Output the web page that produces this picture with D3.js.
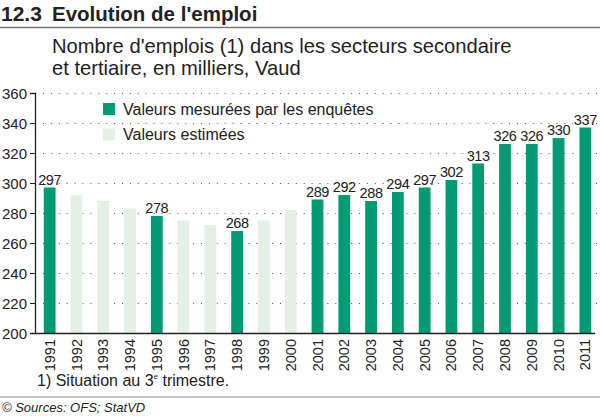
<!DOCTYPE html>
<html><head><meta charset="utf-8">
<script src="https://cdn.jsdelivr.net/npm/d3@7"></script>
<style>body{margin:0;background:#fff}svg{display:block}text{font-family:"Liberation Sans",Arial,sans-serif;fill:#222}</style>
</head><body><svg id="c" width="600" height="416"></svg>
<script>
const years = ["1991","1992","1993","1994","1995","1996","1997","1998","1999","2000","2001","2002","2003","2004","2005","2006","2007","2008","2009","2010","2011"];
const values = [297,292,288,283,278,275,272,268,275,282,289,292,288,294,297,302,313,326,326,330,337];
const measured = [true,false,false,false,true,false,false,true,false,false,true,true,true,true,true,true,true,true,true,true,true];
const yTicks = [200,220,240,260,280,300,320,340,360];
const legendLabels = ["Valeurs mesurées par les enquêtes","Valeurs estimées"];
const colors = {measured:"#009a74", estimated:"#e2f0e5"};

const svg = d3.select("#c");
const x = d3.scaleBand().domain(years).range([36,599]).paddingInner(0.56).paddingOuter(0.29);
const y = d3.scaleLinear().domain([200,360]).range([333,93]);

// title
svg.append("text").attr("x",1).attr("y",21).attr("font-size",21).attr("font-weight","bold").text("12.3");
svg.append("text").attr("x",52).attr("y",21).attr("font-size",20.5).attr("font-weight","bold").text("Evolution de l'emploi");
svg.append("line").attr("x1",0).attr("x2",600).attr("y1",27.5).attr("y2",27.5).attr("stroke","#777").attr("stroke-width",1.5);
svg.append("text").attr("x",52).attr("y",53).attr("font-size",20.2).attr("fill","#333").text("Nombre d'emplois (1) dans les secteurs secondaire");
svg.append("text").attr("x",52).attr("y",74.5).attr("font-size",20.2).attr("fill","#333").text("et tertiaire, en milliers, Vaud");

// grid
svg.append("g").selectAll("line").data(yTicks.slice(1)).join("line")
  .attr("x1",43).attr("x2",599).attr("y1",d=>Math.round(y(d))+0.5).attr("y2",d=>Math.round(y(d))+0.5)
  .attr("stroke","#555").attr("stroke-width",1).attr("stroke-dasharray","1,6.9");

// bars
svg.append("g").selectAll("rect").data(years).join("rect")
  .attr("x",d=>x(d)).attr("width",x.bandwidth())
  .attr("y",(d,i)=>y(values[i])).attr("height",(d,i)=>y(200)-y(values[i]))
  .attr("fill",(d,i)=>measured[i]?colors.measured:colors.estimated);

// value labels (measured only)
svg.append("g").selectAll("text").data(years.filter((d,i)=>measured[i])).join("text")
  .attr("x",d=>x(d)+x.bandwidth()/2).attr("y",d=>y(values[years.indexOf(d)])-3)
  .attr("text-anchor","middle").attr("font-size",14.5).attr("fill","#333").attr("letter-spacing","-0.4")
  .text(d=>values[years.indexOf(d)]);

// y axis
const ya = svg.append("g").attr("transform","translate(35,0)")
  .call(d3.axisLeft(y).tickValues(yTicks).tickSize(5).tickPadding(3));
ya.select(".domain").attr("stroke","#222").attr("stroke-width",1.3);
ya.selectAll(".tick line").attr("stroke","#222");
ya.selectAll("text").attr("font-size",15).attr("fill","#222").attr("font-family","Liberation Sans, Arial, sans-serif").attr("dy","0.36em");

// x axis
const xa = svg.append("g").attr("transform","translate(0,333)")
  .call(d3.axisBottom(x).tickSize(0).tickPadding(0));
xa.select(".domain").attr("d","M35,0.5H595").attr("stroke","#222").attr("stroke-width",1.5);
xa.selectAll(".tick text").attr("font-size",14.5).attr("fill","#222").attr("font-family","Liberation Sans, Arial, sans-serif")
  .attr("transform","rotate(-90)").attr("text-anchor","end").attr("x",-6).attr("y",0).attr("dy","0.35em");

// legend
legendLabels.forEach((t,i)=>{
  svg.append("rect").attr("x",103).attr("y",103+i*25.5).attr("width",12).attr("height",12)
    .attr("fill",i===0?colors.measured:colors.estimated);
  svg.append("text").attr("x",123).attr("y",114.5+i*25.5).attr("font-size",16).attr("fill","#333").text(t);
});

// footnote
const fn = svg.append("text").attr("x",37).attr("y",386).attr("font-size",16).attr("fill","#333");
fn.append("tspan").text("1) Situation au 3");
fn.append("tspan").attr("font-size",8).attr("dy",-7).text("e");
fn.append("tspan").attr("dy",7).text(" trimestre.");
svg.append("line").attr("x1",0).attr("x2",600).attr("y1",397).attr("y2",397).attr("stroke","#888").attr("stroke-width",1);
svg.append("text").attr("x",2).attr("y",412).attr("font-size",13).attr("font-style","italic").attr("fill","#333").text("© Sources: OFS; StatVD");
</script></body></html>
